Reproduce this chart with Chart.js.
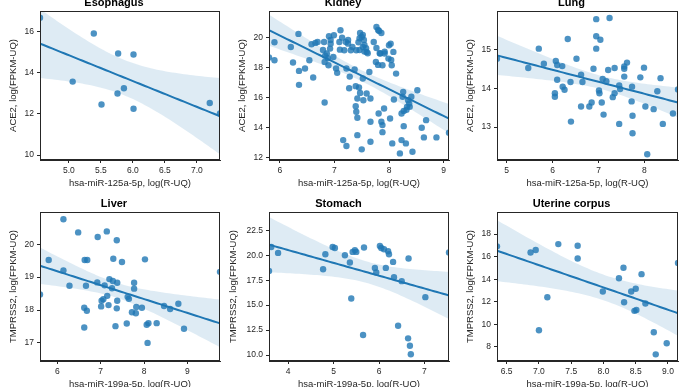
<!DOCTYPE html>
<html>
<head>
<meta charset="utf-8">
<script src="https://cdn.jsdelivr.net/npm/chart.js@4.4.1/dist/chart.umd.min.js"></script>
<style>
html, body { margin: 0; padding: 0; background: #fff; overflow: hidden; }
body { width: 688px; height: 387px; position: relative; }
.panel { position: absolute; }
</style>
</head>
<body>
<script>
// values
const esoX = [4.55, 5.39, 5.06, 5.77, 6.01, 5.86, 5.76, 5.51, 6.01, 7.20, 7.36];
const esoY = [16.65, 15.89, 13.56, 14.92, 14.87, 13.24, 12.98, 12.45, 12.24, 12.52, 12.02];

const kidX = [5.80, 5.90, 5.90, 6.20, 6.24, 6.34, 6.35, 6.35, 6.46, 6.54, 6.61, 6.58, 6.65, 6.69, 6.82, 6.81,
  6.86, 6.90, 6.92, 6.93, 6.82, 6.89, 6.99, 6.98, 7.05, 7.03, 7.09, 7.11, 7.10, 7.14, 7.16, 7.18, 7.21, 7.22,
  7.22, 7.25, 7.27, 7.30, 7.33, 7.37, 7.39, 7.42, 7.40, 7.44, 7.45, 7.39, 7.40, 7.42, 7.47, 7.50, 7.50, 7.52,
  7.47, 7.52, 7.53, 7.59, 7.59, 7.64, 7.66, 7.66, 7.66, 7.72, 7.77, 7.77, 7.76, 7.81, 7.82, 7.84, 7.86, 7.86,
  7.88, 7.88, 7.88, 7.91, 7.92, 7.99, 8.00, 8.02, 8.03, 8.05, 8.06, 8.08, 8.09, 8.13, 8.20, 8.23, 8.23, 8.25,
  8.26, 8.27, 8.27, 8.31, 8.33, 8.35, 8.37, 8.38, 8.41, 8.43, 8.52, 8.60, 8.64, 8.68, 8.87, 9.10, 7.80, 7.52,
  7.46, 7.54, 7.55, 7.58, 7.46, 7.55, 7.61, 7.92, 7.83, 8.04, 7.80, 8.32, 6.93, 6.79, 6.83, 6.88, 7.25, 7.28,
  7.42];
const kidY = [18.69, 19.71, 18.51, 19.40, 18.36, 20.27, 17.80, 16.87, 17.96, 18.51, 17.36, 19.58, 19.67, 19.73,
  15.69, 19.73, 18.96, 20.11, 19.29, 19.62, 18.40, 18.18, 20.18, 18.73, 17.67, 17.96, 19.73, 20.51, 19.22, 20.02,
  13.18, 19.18, 19.73, 17.96, 12.78, 19.62, 16.64, 19.18, 19.40, 17.89, 16.78, 15.96, 19.18, 19.71, 16.69, 15.44,
  15.07, 13.51, 20.33, 20.07, 12.56, 19.40, 16.33, 17.29, 15.84, 16.29, 19.07, 17.73, 15.96, 14.40, 13.07, 19.73,
  20.73, 19.33, 18.40, 14.96, 20.47, 18.96, 20.33, 14.40, 18.18, 13.71, 14.18, 15.29, 18.96, 18.62, 19.51, 14.62,
  19.62, 18.18, 12.96, 19.07, 15.89, 17.62, 12.29, 14.96, 13.18, 16.07, 16.40, 15.13, 14.11, 12.96, 15.40, 15.84,
  15.62, 15.40, 16.07, 12.40, 16.51, 14.00, 13.36, 14.51, 13.36, 13.67, 20.53, 20.20, 19.98, 19.87, 19.53, 19.31,
  19.20, 19.09, 18.98, 19.09, 18.98, 18.53, 18.20, 15.20, 19.87, 19.20, 18.82, 18.64, 19.87, 17.42,
  14.67];

const lungX = [4.79, 5.47, 5.70, 5.81, 6.07, 6.10, 6.21, 6.10, 6.22, 6.26, 6.05, 6.05, 6.33, 6.39, 6.40, 6.52,
  6.62, 6.65, 6.62, 6.80, 6.85, 6.89, 6.95, 6.95, 6.95, 7.04, 7.01, 7.02, 7.07, 7.09, 7.11, 7.17, 7.21, 7.24,
  7.35, 7.35, 7.31, 7.45, 7.47, 7.45, 7.56, 7.56, 7.62, 7.56, 7.73, 7.72, 7.74, 7.74, 7.91, 7.99, 8.02, 8.06,
  8.20, 8.28, 8.35, 8.40, 8.62, 8.73];
const lungY = [14.76, 14.52, 15.02, 14.63, 14.70, 14.60, 14.57, 14.22, 14.04, 13.96, 13.87, 13.78, 15.27, 14.16,
  13.14, 14.76, 14.35, 14.16, 13.53, 13.53, 13.63, 14.50, 15.02, 15.34, 15.78, 15.25, 13.94, 13.87, 13.63, 14.24,
  13.32, 14.18, 14.47, 15.81, 14.52, 13.87, 13.77, 14.07, 13.98, 13.08, 14.50, 14.56, 14.66, 14.30, 14.04, 13.66,
  13.29, 12.84, 14.28, 14.53, 13.53, 12.30, 13.46, 13.92, 14.26, 13.08, 13.35, 13.97];

const livX = [6.14, 6.48, 6.93, 7.14, 7.37, 5.80, 6.63, 6.69, 7.29, 7.49, 8.02, 6.14, 6.28, 6.66, 6.92, 7.09,
  7.20, 7.28, 7.38, 7.26, 7.77, 7.77, 5.60, 7.15, 7.06, 7.02, 7.38, 7.62, 7.65, 7.01, 7.18, 7.37, 6.62, 6.68,
  7.72, 7.81, 7.82, 7.95, 6.62, 7.34, 7.60, 8.06, 8.10, 8.29, 8.08, 8.46, 8.60, 8.79, 8.92, 9.75];
const livY = [20.76, 20.36, 20.22, 20.39, 20.12, 19.52, 19.52, 19.52, 19.56, 19.46, 19.54, 19.20, 18.74, 18.74,
  18.84, 18.75, 18.94, 18.88, 18.83, 18.66, 18.83, 18.65, 18.47, 18.43, 18.33, 18.28, 18.28, 18.40, 18.34, 18.11,
  18.15, 18.05, 18.07, 17.98, 17.93, 17.90, 18.09, 18.07, 17.47, 17.51, 17.59, 17.55, 17.60, 17.60, 17.00, 18.12,
  18.03, 18.19, 17.43, 19.16];

const stoX = [3.58, 3.63, 3.78, 4.77, 4.82, 4.98, 5.03, 5.25, 5.36, 5.42, 5.47, 5.50, 5.67, 5.39, 5.65, 5.91,
  5.94, 6.02, 6.05, 6.11, 6.15, 6.20, 6.22, 6.31, 6.33, 6.50, 6.42, 6.64, 6.68, 6.70, 6.65, 7.02, 7.54];
const stoY = [18.43, 20.83, 20.23, 18.60, 20.10, 20.83, 20.73, 20.00, 19.27, 20.33, 20.50, 20.33, 20.77, 15.67,
  12.00, 18.73, 18.27, 20.93, 20.73, 20.60, 18.73, 20.40, 20.10, 19.33, 17.80, 17.40, 12.93, 11.67, 10.93, 10.07,
  19.67, 15.80, 20.27];

const uteX = [6.35, 6.87, 6.95, 7.30, 7.60, 7.60, 7.13, 7.00, 7.99, 8.24, 8.31, 8.32, 8.43, 8.50, 8.48, 8.51,
  8.59, 8.65, 8.78, 8.81, 8.98, 9.155];
const uteY = [16.91, 16.37, 16.58, 17.11, 16.96, 15.84, 12.41, 9.48, 12.91, 14.09, 15.01, 11.96, 12.91, 13.15,
  11.20, 11.28, 14.45, 11.85, 9.30, 7.35, 8.33, 15.43];

// tick labels
const esoXTicks = [5.0, 5.5, 6.0, 6.5, 7.0];
const esoYTicks = [10, 12, 14, 16];
const kidXTicks = [6, 7, 8, 9];
const kidYTicks = [12, 14, 16, 18, 20];
const lungXTicks = [5, 6, 7, 8];
const lungYTicks = [13, 14, 15];
const livXTicks = [6, 7, 8, 9];
const livYTicks = [17, 18, 19, 20];
const stoXTicks = [4, 5, 6, 7];
const stoYTicks = [10.0, 12.5, 15.0, 17.5, 20.0, 22.5];
const uteXTicks = [6.5, 7.0, 7.5, 8.0, 8.5, 9.0];
const uteYTicks = [8, 10, 12, 14, 16, 18];

const blue = '#1f77b4';
const ink = '#262626';
Chart.defaults.font.family = '"Liberation Sans", Arial, sans-serif';
Chart.defaults.color = ink;

// approx two sided 95% t quantile
function tq(df) {
  const z = 1.96;
  return z + (z ** 3 + z) / (4 * df) + (5 * z ** 5 + 16 * z ** 3 + 3 * z) / (96 * df * df);
}

function regress(xs, ys, lo, hi) {
  const n = xs.length;
  const mx = xs.reduce((a, b) => a + b, 0) / n;
  const my = ys.reduce((a, b) => a + b, 0) / n;
  let sxx = 0, sxy = 0;
  for (let i = 0; i < n; i++) { sxx += (xs[i] - mx) ** 2; sxy += (xs[i] - mx) * (ys[i] - my); }
  const b = sxy / sxx, a = my - b * mx;
  let sse = 0;
  for (let i = 0; i < n; i++) sse += (ys[i] - a - b * xs[i]) ** 2;
  const s = Math.sqrt(sse / (n - 2)), t = tq(n - 2);
  const line = [], up = [], dn = [];
  for (let k = 0; k <= 60; k++) {
    const x = lo + (hi - lo) * k / 60;
    const yh = a + b * x;
    const h = t * s * Math.sqrt(1 / n + (x - mx) ** 2 / sxx);
    line.push({ x: x, y: yh }); up.push({ x: x, y: yh + h }); dn.push({ x: x, y: yh - h });
  }
  return { line, up, dn };
}

const frame = {
  id: 'frame',
  afterDatasetsDraw(chart) {
    const { ctx, chartArea: c } = chart;
    ctx.save();
    ctx.strokeStyle = ink;
    ctx.lineWidth = 1;
    ctx.strokeRect(Math.round(c.left) + 0.5, Math.round(c.top) + 0.5,
      Math.round(c.right - c.left) - 1, Math.round(c.bottom - c.top) - 1);
    ctx.restore();
  }
};

const panels = [
  { title: 'Esophagus', xs: esoX, ys: esoY, xt: esoXTicks, yt: esoYTicks, xd: 1, yd: 0, ymin: 9.76, ymax: 16.98,
    xl: 'hsa-miR-125a-5p, log(R-UQ)', yl: 'ACE2, log(FPKM-UQ)', box: [40, 11, 220, 160], yw: 32 },
  { title: 'Kidney', xs: kidX, ys: kidY, xt: kidXTicks, yt: kidYTicks, xd: 0, yd: 0, ymin: 11.85, ymax: 21.8,
    xl: 'hsa-miR-125a-5p, log(R-UQ)', yl: 'ACE2, log(FPKM-UQ)', box: [269, 11, 449, 160], yw: 32 },
  { title: 'Lung', xs: lungX, ys: lungY, xt: lungXTicks, yt: lungYTicks, xd: 0, yd: 0, ymin: 12.15, ymax: 15.99,
    xl: 'hsa-miR-125a-5p, log(R-UQ)', yl: 'ACE2, log(FPKM-UQ)', box: [497, 11, 678, 160], yw: 32 },
  { title: 'Liver', xs: livX, ys: livY, xt: livXTicks, yt: livYTicks, xd: 0, yd: 0, ymin: 16.45, ymax: 20.98,
    xl: 'hsa-miR-199a-5p, log(R-UQ)', yl: 'TMPRSS2, log(FPKM-UQ)', box: [40, 212, 220, 361], yw: 32 },
  { title: 'Stomach', xs: stoX, ys: stoY, xt: stoXTicks, yt: stoYTicks, xd: 0, yd: 1, ymin: 9.4, ymax: 24.33,
    xl: 'hsa-miR-199a-5p, log(R-UQ)', yl: 'TMPRSS2, log(FPKM-UQ)', box: [269, 212, 449, 361], yw: 41 },
  { title: 'Uterine corpus', xs: uteX, ys: uteY, xt: uteXTicks, yt: uteYTicks, xd: 1, yd: 0, ymin: 6.76, ymax: 19.95,
    xl: 'hsa-miR-199a-5p, log(R-UQ)', yl: 'TMPRSS2, log(FPKM-UQ)', box: [497, 212, 678, 361], yw: 32 }
];

const TITLE_H = 17, XAXIS_H = 29, PAD_R = 8;

panels.forEach(p => {
  const [L, T, R, B] = p.box;
  const w = p.yw + (R - L) + PAD_R, h = TITLE_H + (B - T) + XAXIS_H;
  const div = document.createElement('div');
  div.className = 'panel';
  div.style.left = (L - p.yw) + 'px';
  div.style.top = (T - TITLE_H) + 'px';
  div.style.width = w + 'px';
  div.style.height = h + 'px';
  const cv = document.createElement('canvas');
  cv.width = w; cv.height = h;
  div.appendChild(cv);
  document.body.appendChild(div);

  const xmin = Math.min(...p.xs), xmax = Math.max(...p.xs);
  const fit = regress(p.xs, p.ys, xmin, xmax);
  const pts = p.xs.map((x, i) => ({ x: x, y: p.ys[i] }));

  new Chart(cv, {
    type: 'scatter',
    data: {
      datasets: [
        { data: fit.dn, showLine: true, pointRadius: 0, borderWidth: 0, fill: false, order: 1, clip: 0 },
        { data: fit.up, showLine: true, pointRadius: 0, borderWidth: 0, fill: '-1',
          backgroundColor: 'rgba(31,119,180,0.15)', order: 1, clip: 0 },
        { data: fit.line, showLine: true, pointRadius: 0, borderColor: blue, borderWidth: 2, order: 0, clip: 0 },
        { data: pts, pointRadius: 3.2, pointHoverRadius: 3.2, borderWidth: 0,
          backgroundColor: 'rgba(31,119,180,0.8)', order: 2, clip: 0 }
      ]
    },
    options: {
      responsive: false,
      animation: false,
      devicePixelRatio: 1,
      layout: { padding: { left: 0, top: 0, right: PAD_R, bottom: 0 } },
      plugins: {
        legend: { display: false },
        tooltip: { enabled: false },
        title: { display: true, text: p.title, color: '#000',
          font: { size: 11, weight: 'bold' }, padding: { top: 2, bottom: 1.8 } }
      },
      scales: {
        x: {
          type: 'linear', min: xmin, max: xmax,
          afterBuildTicks: s => { s.ticks = p.xt.map(v => ({ value: v })); },
          afterFit: s => { s.height = XAXIS_H; },
          ticks: { callback: v => v.toFixed(p.xd), font: { size: 8.5 }, padding: 3, maxRotation: 0, autoSkip: false, color: ink },
          grid: { drawOnChartArea: false, drawTicks: true, tickLength: 3, color: ink },
          border: { display: true, color: ink, width: 1 },
          title: { display: true, text: p.xl, font: { size: 9.5 }, padding: 0, color: ink }
        },
        y: {
          type: 'linear', min: p.ymin, max: p.ymax,
          afterBuildTicks: s => { s.ticks = p.yt.map(v => ({ value: v })); },
          afterFit: s => { s.width = p.yw; },
          ticks: { callback: v => v.toFixed(p.yd), font: { size: 8.5 }, padding: 3, autoSkip: false, color: ink },
          grid: { drawOnChartArea: false, drawTicks: true, tickLength: 3, color: ink },
          border: { display: true, color: ink, width: 1 },
          title: { display: true, text: p.yl, font: { size: 9.5 }, padding: 0, color: ink }
        }
      }
    },
    plugins: [frame]
  });
});
</script>
</body>
</html>
